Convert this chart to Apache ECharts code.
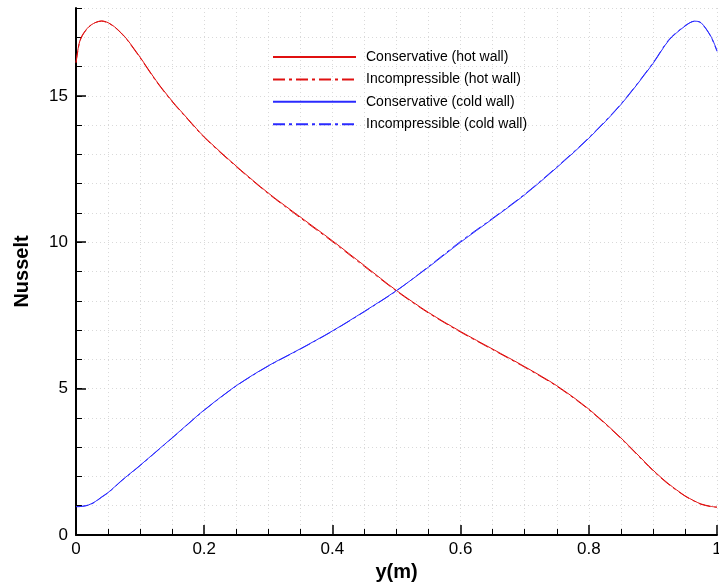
<!DOCTYPE html>
<html>
<head>
<meta charset="utf-8">
<script src="https://cdn.jsdelivr.net/npm/echarts@6/dist/echarts.min.js"></script>
<style>html,body{margin:0;padding:0;background:#fff;}#c{width:719px;height:582px;}</style>
</head>
<body>
<div id="c"></div>
<script>
// Positions along the wall (m)
const yPos = [0, 0.005, 0.01, 0.02, 0.03, 0.04, 0.05, 0.06, 0.07, 0.08, 0.1, 0.125, 0.15, 0.175, 0.2, 0.25, 0.3, 0.35, 0.4, 0.45, 0.5, 0.55, 0.6, 0.65, 0.7, 0.75, 0.8, 0.85, 0.9, 0.925, 0.95, 0.965, 0.975, 0.99, 1.0];
// Nusselt values
const hotConservative = [16.15, 16.8, 17.08, 17.36, 17.5, 17.56, 17.5, 17.36, 17.16, 16.92, 16.32, 15.52, 14.82, 14.2, 13.6, 12.6, 11.68, 10.86, 10.05, 9.2, 8.35, 7.6, 6.95, 6.35, 5.75, 5.1, 4.3, 3.32, 2.22, 1.74, 1.34, 1.16, 1.06, 0.98, 0.95];
const hotIncompressible = [16.12, 16.78, 17.06, 17.35, 17.5, 17.55, 17.49, 17.35, 17.15, 16.9, 16.3, 15.5, 14.8, 14.18, 13.58, 12.58, 11.66, 10.83, 10.02, 9.17, 8.33, 7.58, 6.93, 6.33, 5.73, 5.08, 4.28, 3.3, 2.2, 1.72, 1.33, 1.15, 1.05, 0.97, 0.95];
const coldConservative = [0.97, 0.97, 0.98, 1.03, 1.14, 1.3, 1.45, 1.64, 1.84, 2.02, 2.38, 2.85, 3.32, 3.8, 4.27, 5.1, 5.78, 6.36, 6.97, 7.64, 8.35, 9.15, 10.0, 10.8, 11.62, 12.55, 13.55, 14.7, 16.1, 16.9, 17.38, 17.55, 17.5, 17.05, 16.55];
const coldIncompressible = [0.97, 0.97, 0.98, 1.02, 1.13, 1.29, 1.44, 1.63, 1.83, 2.01, 2.37, 2.84, 3.31, 3.79, 4.26, 5.09, 5.77, 6.35, 6.96, 7.63, 8.34, 9.17, 10.03, 10.82, 11.64, 12.57, 13.57, 14.72, 16.12, 16.92, 17.39, 17.55, 17.49, 17.04, 16.52];
const xTicks = [0, 0.2, 0.4, 0.6, 0.8, 1];
const yTicks = [0, 5, 10, 15];
const seriesNames = ['Conservative (hot wall)', 'Incompressible (hot wall)', 'Conservative (cold wall)', 'Incompressible (cold wall)'];

const chart = echarts.init(document.getElementById('c'), null, {renderer: 'canvas'});
const pair = (ys) => yPos.map((x, i) => [x, ys[i]]);
const FONT = 'Liberation Sans';
const grid = '#d9d9d9';
const red = '#e01010', blue = '#2a2aff';
const dashDot = [12, 4, 3, 4];

const option = {
  animation: false,
  backgroundColor: '#fff',
  textStyle: {fontFamily: FONT},
  grid: {left: 76, right: 2, top: 8, bottom: 47, containLabel: false, outerBoundsMode: 'none'},
  legend: {
    orient: 'vertical', left: 267, top: 45,
    itemWidth: 83, itemHeight: 14, itemGap: 8.4,
    itemStyle: {opacity: 0},
    textStyle: {fontFamily: FONT, fontSize: 14, color: '#000', padding: [0, 0, 0, 5]},
    data: seriesNames
  },
  xAxis: {
    type: 'value', min: 0, max: 1, interval: 0.2,
    name: 'y(m)', nameLocation: 'middle', nameGap: 21,
    nameTextStyle: {fontFamily: FONT, fontSize: 20, fontWeight: 'bold', color: '#000'},
    axisLine: {show: true, onZero: false, lineStyle: {color: '#000', width: 2}},
    axisTick: {show: true, inside: true, length: 10, lineStyle: {color: '#000', width: 1.5}},
    minorTick: {show: true, splitNumber: 4, length: 6, lineStyle: {color: '#000', width: 1}},
    axisLabel: {fontFamily: FONT, fontSize: 17, color: '#000', margin: 6,
      formatter: v => String(+v.toFixed(1))},
    splitLine: {show: true, lineStyle: {color: grid, type: [1, 3], width: 1}},
    minorSplitLine: {show: true, lineStyle: {color: grid, type: [1, 3], width: 1}}
  },
  yAxis: [{
    type: 'value', min: 0, max: 18, position: 'left',
    name: 'Nusselt', nameLocation: 'middle', nameGap: 44, nameRotate: 90,
    nameTextStyle: {fontFamily: FONT, fontSize: 20, fontWeight: 'bold', color: '#000'},
    axisLine: {show: true, onZero: false, lineStyle: {color: '#000', width: 2}},
    axisTick: {show: true, inside: true, length: 10, customValues: yTicks, lineStyle: {color: '#000', width: 1.5}},
    axisLabel: {fontFamily: FONT, fontSize: 17, color: '#000', margin: 8, customValues: yTicks},
    splitLine: {show: false}
  }, {
    type: 'value', min: 0, max: 18, interval: 1, position: 'left',
    axisLine: {show: false},
    axisTick: {show: true, inside: true, length: 6, lineStyle: {color: '#000', width: 1}},
    axisLabel: {show: false},
    splitLine: {show: true, lineStyle: {color: grid, type: [1, 3], width: 1}}
  }],
  series: [
    {name: seriesNames[0], type: 'line', data: pair(hotConservative), symbol: 'none', smooth: 0.3, lineStyle: {color: red, width: 1}, itemStyle: {color: red}},
    {name: seriesNames[1], type: 'line', data: pair(hotIncompressible), symbol: 'none', smooth: 0.3, lineStyle: {color: red, width: 1, type: dashDot}, itemStyle: {color: red}},
    {name: seriesNames[2], type: 'line', data: pair(coldConservative), symbol: 'none', smooth: 0.3, lineStyle: {color: blue, width: 1}, itemStyle: {color: blue}},
    {name: seriesNames[3], type: 'line', data: pair(coldIncompressible), symbol: 'none', smooth: 0.3, lineStyle: {color: blue, width: 1, type: dashDot}, itemStyle: {color: blue}}
  ]
};
chart.setOption(option);
</script>
</body>
</html>
